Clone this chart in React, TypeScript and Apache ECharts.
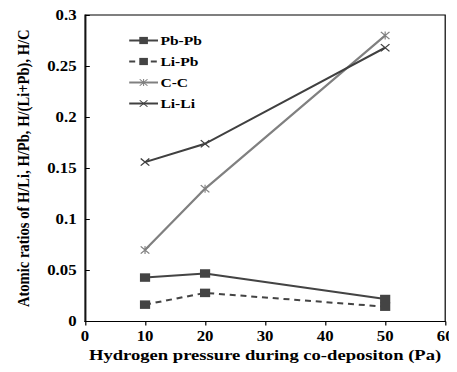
import React, { useEffect, useRef } from "react";
import * as echarts from "echarts";

const pressures = [10, 20, 50];
const pbPb = [0.043, 0.047, 0.022];
const liPb = [0.0165, 0.028, 0.0145];
const cC = [0.07, 0.13, 0.28];
const liLi = [0.156, 0.174, 0.268];
const xTicks = { min: 0, max: 60, interval: 10 };
const yTicks = { min: 0, max: 0.3, interval: 0.05 };

const crossPath = "path://M0,1 L1,0 L10,9 L9,10 Z M9,0 L10,1 L1,10 L0,9 Z";
const starPath =
  "path://M0,1 L1,0 L10,9 L9,10 Z M9,0 L10,1 L1,10 L0,9 Z M4.4,0 L5.6,0 L5.6,10 L4.4,10 Z";

const font = "Liberation Serif";
// the reference figure is horizontally stretched; draw narrower and scale on X
const SX = 1.2;
const W = 457 / SX;

export default function App() {
  const ref = useRef<HTMLDivElement>(null);
  useEffect(() => {
    const chart = echarts.init(ref.current!, null, { renderer: "svg" });
    const pts = (arr: number[]) => pressures.map((p, i) => [p, arr[i]]);
    const tl = { fontFamily: font, fontWeight: "bold", color: "#000" };
    chart.setOption({
      animation: false,
      backgroundColor: "#fff",
      grid: {
        left: 85 / SX,
        right: 10.5 / SX,
        top: 15,
        bottom: 50.5,
        show: true,
        borderColor: "#000",
        borderWidth: 1,
      },
      legend: {
        orient: "vertical",
        left: 128 / SX,
        top: 34,
        padding: 0,
        itemWidth: 24,
        itemHeight: 9,
        itemGap: 8,
        textStyle: { ...tl, fontSize: 13, padding: [0, 0, 0, -3] },
        data: ["Pb-Pb", "Li-Pb", "C-C", "Li-Li"],
      },
      xAxis: {
        type: "value",
        ...xTicks,
        name: "Hydrogen pressure during co-depositon (Pa)",
        nameLocation: "middle",
        nameGap: 26,
        nameMoveOverlap: false,
        nameTextStyle: { ...tl, fontSize: 15.5 },
        axisLine: { show: true, lineStyle: { color: "#000" } },
        axisTick: { show: true, length: 4, lineStyle: { color: "#000" } },
        axisLabel: { ...tl, fontSize: 14, margin: 8 },
        splitLine: { show: false },
      },
      yAxis: {
        type: "value",
        ...yTicks,
        name: "Atomic ratios of H/Li, H/Pb, H/(Li+Pb), H/C",
        nameLocation: "middle",
        nameGap: 44,
        nameMoveOverlap: false,
        nameTextStyle: { ...tl, fontSize: 14.6 },
        axisLine: { show: true, lineStyle: { color: "#000" } },
        axisTick: { show: true, inside: true, length: 4, lineStyle: { color: "#000" } },
        axisLabel: { ...tl, fontSize: 14, margin: 7 },
        splitLine: { show: false },
      },
      series: [
        {
          name: "Pb-Pb",
          type: "line",
          data: pts(pbPb),
          symbol: "rect",
          symbolSize: 8.5,
          itemStyle: { color: "#444" },
          lineStyle: { color: "#444", width: 2 },
        },
        {
          name: "Li-Pb",
          type: "line",
          data: pts(liPb),
          symbol: "rect",
          symbolSize: 8.5,
          itemStyle: { color: "#444" },
          lineStyle: { color: "#444", width: 2, type: [5, 4] },
        },
        {
          name: "C-C",
          type: "line",
          data: pts(cC),
          symbol: starPath,
          symbolSize: 8,
          itemStyle: { color: "#808080" },
          lineStyle: { color: "#808080", width: 2 },
        },
        {
          name: "Li-Li",
          type: "line",
          data: pts(liLi),
          symbol: crossPath,
          symbolSize: 8,
          itemStyle: { color: "#404040" },
          lineStyle: { color: "#404040", width: 2 },
        },
      ],
    });
    return () => chart.dispose();
  }, []);
  return (
    <div style={{ width: 457, height: 372, margin: -8 }}>
      <div
        ref={ref}
        style={{ width: W, height: 372, transform: `scaleX(${SX})`, transformOrigin: "0 0" }}
      />
    </div>
  );
}
